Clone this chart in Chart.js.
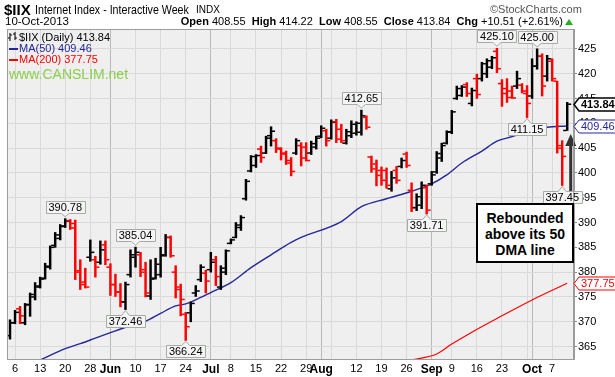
<!DOCTYPE html>
<html>
<head>
<meta charset="utf-8">
<script src="https://cdn.jsdelivr.net/npm/chart.js@4.4.1/dist/chart.umd.min.js"></script>
<style>
  html, body { margin:0; padding:0; background:#fff; }
  #wrap { position:relative; width:615px; height:377px; overflow:hidden; font-family:'Liberation Sans', Arial, sans-serif; color:#000; }
  #c { position:absolute; left:0; top:0; }
  .t { position:absolute; white-space:nowrap; line-height:1; }
  #note { position:absolute; left:476px; top:203px; width:98px; height:60px; box-sizing:border-box; border:2px solid #000; background:#fff;
          font:bold 14px 'Liberation Sans', Arial, sans-serif; line-height:16px; text-align:center; padding-top:5px; }
</style>
</head>
<body>
<div id="wrap">
  <canvas id="c" width="615" height="377"></canvas>
  <div class="t" style="left:4px;top:2px;font-size:15px;font-weight:bold;">$IIX</div>
  <div class="t" style="left:35px;top:3px;font-size:13px;transform:scaleX(0.82);transform-origin:0 0;">Internet Index - Interactive Week</div>
  <div class="t" style="left:196px;top:5px;font-size:10px;">INDX</div>
  <div class="t" style="left:490px;top:4px;font-size:11px;color:#555;">©StockCharts.com</div>
  <div class="t" id="dt" style="left:5px;top:16px;font-size:11.5px;"></div>
  <div class="t" id="ohlc" style="right:52px;top:16px;font-size:11px;"></div>
  <div class="t" style="left:565px;top:19px;width:0;height:0;border-left:4px solid transparent;border-right:4px solid transparent;border-bottom:6px solid #22b022;"></div>

  <div class="t" id="lg1" style="left:19px;top:32px;font-size:11px;"></div>
  <svg class="t" style="left:8px;top:32px;" width="10" height="10"><path d="M2 1V9M0 6H2M2 3H4M7 0V8M5 2H7M7 6H9" stroke="#000" stroke-width="1"/></svg>
  <div class="t" style="left:9px;top:48px;width:9px;height:2px;background:#26269a;"></div>
  <div class="t" id="lg2" style="left:19px;top:43px;font-size:11px;color:#26269a;"></div>
  <div class="t" style="left:9px;top:59px;width:9px;height:2px;background:#ff0000;"></div>
  <div class="t" id="lg3" style="left:19px;top:54px;font-size:11px;color:#ff0000;"></div>
  <div class="t" style="left:9px;top:67px;font-size:14px;color:#8ccf4d;">www.CANSLIM.net</div>

  <div id="note">Rebounded<br>above its 50<br>DMA line</div>
</div>
<script>
// ---------- DATA ----------
const monthDays = [
  ['May',[3,6,7,8,9,10,13,14,15,16,17,20,21,22,23,24,28,29,30,31]],
  ['Jun',[3,4,5,6,7,10,11,12,13,14,17,18,19,20,21,24,25,26,27,28]],
  ['Jul',[1,2,3,5,8,9,10,11,12,15,16,17,18,19,22,23,24,25,26,29,30,31]],
  ['Aug',[1,2,5,6,7,8,9,12,13,14,15,16,19,20,21,22,23,26,27,28,29,30]],
  ['Sep',[3,4,5,6,9,10,11,12,13,16,17,18,19,20,23,24,25,26,27,30]],
  ['Oct',[1,2,3,4,7,8,9,10]]
];
const categories = monthDays.flatMap(([m, ds]) => ds.map(d => m + ' ' + d));

const open = [367.2,369.8,372.6,369.8,373.5,375.0,377.0,378.8,381.0,385.4,386.8,389.3,390.4,389.8,380.0,378.0,383.0,382.5,382.0,385.5,
  381.0,377.5,376.0,374.0,379.5,383.0,383.5,380.5,375.2,378.8,379.5,383.3,387.0,380.0,376.5,371.5,371.8,375.8,378.5,379.8,
  380.5,382.5,377.0,380.0,385.8,387.0,389.0,394.8,400.4,401.5,404.8,404.0,407.5,406.5,404.8,403.8,402.0,404.0,405.5,405.2,
  404.0,405.2,407.4,408.5,407.0,410.3,408.8,406.0,407.5,408.0,408.2,411.2,403.2,401.8,400.5,400.5,396.8,400.5,401.3,403.8,
  396.5,393.0,393.5,397.0,397.8,400.2,403.0,406.0,408.3,415.0,415.6,417.8,414.0,419.0,419.0,420.0,421.3,424.5,418.0,417.0,
  416.5,417.5,417.7,416.0,415.5,421.5,423.5,419.5,422.5,418.5,405.5,408.55];
const high = [370.4,372.3,373.1,373.7,375.8,377.9,379.0,381.8,385.3,388.0,389.6,390.78,390.6,390.5,382.5,380.8,386.5,383.2,386.3,386.3,
  381.7,379.6,377.7,378.0,384.5,385.04,384.0,382.0,382.5,382.8,385.0,387.6,387.3,381.3,377.6,371.9,374.0,377.3,381.5,380.4,
  384.0,383.2,381.3,384.5,386.7,390.0,391.4,398.7,403.5,403.7,405.4,407.4,409.3,406.9,405.1,404.4,403.1,406.9,406.1,406.1,
  406.4,407.4,409.5,408.8,410.7,410.8,409.8,408.8,410.5,410.3,412.65,411.5,403.4,402.6,401.2,401.0,400.3,401.3,403.0,404.2,
  398.0,395.8,398.2,397.6,400.3,404.3,406.0,408.5,412.6,417.5,417.6,418.2,417.1,419.9,422.3,423.0,423.5,425.10,418.8,419.0,
  417.5,420.5,418.0,417.6,423.0,425.00,424.0,423.7,423.0,418.5,406.5,414.22];
const low = [366.5,369.6,369.6,369.4,371.1,374.4,376.8,378.6,380.6,385.0,386.5,389.0,388.6,378.5,376.5,376.8,382.2,379.0,381.6,381.5,
  375.3,375.1,373.0,372.46,379.0,381.0,379.1,375.0,374.5,378.6,379.0,383.2,383.0,374.8,371.2,366.24,370.0,375.1,378.1,375.8,
  380.0,377.3,376.5,379.5,385.7,386.9,388.4,394.5,400.2,401.1,402.1,403.9,405.4,404.1,402.6,401.7,399.4,403.7,401.4,402.4,
  403.7,404.8,407.1,405.4,406.8,406.1,406.1,405.8,407.1,407.6,407.6,408.8,400.1,397.4,397.5,396.9,396.3,397.9,401.0,401.1,
  392.2,392.4,392.8,391.71,397.5,399.9,402.3,405.8,407.9,414.8,415.4,415.4,413.5,415.0,418.5,419.2,421.0,420.2,413.4,414.2,
  415.0,417.0,416.1,411.15,415.0,420.9,415.5,418.5,418.5,404.0,397.45,408.55];
const close = [369.8,371.9,371.2,373.4,375.5,377.2,378.6,381.2,385.0,387.5,389.2,390.3,388.9,380.3,377.5,377.0,384.0,381.0,384.5,382.5,
  377.5,376.0,374.0,377.5,383.5,384.0,380.0,375.8,378.6,381.6,383.5,387.0,383.3,377.0,374.5,369.0,373.7,376.2,381.0,378.2,
  382.0,379.1,380.8,384.3,386.5,389.5,391.0,398.3,403.3,403.5,403.1,407.0,408.4,405.0,404.0,402.5,400.3,406.5,403.0,402.5,
  405.9,407.0,409.0,406.5,410.2,406.8,406.5,408.3,409.8,410.0,411.5,409.2,400.8,399.5,398.5,397.5,399.0,398.5,402.5,401.5,
  393.0,395.2,397.5,392.5,399.6,403.9,405.5,408.2,412.3,417.0,417.3,416.0,416.6,415.8,422.0,422.6,423.2,421.0,416.0,415.2,
  415.1,419.0,416.5,414.0,421.5,423.5,417.5,423.0,419.0,405.0,403.33,413.84];

const ma50Idx = [6,11,14,17,20,23,27,30,33,35,38,40,44,48,52,56,58,66,70,75,80,84,87,90,94,97,100,104,107,111];
const ma50Val = [362.3,364.6,365.6,366.7,367.8,368.9,370.1,371.7,373.2,373.6,374.9,375.9,377.9,380.9,383.5,386.0,387.0,390.2,393.2,394.8,396.3,397.8,399.6,402.0,404.4,406.4,407.3,408.6,409.2,409.46];
const ma200Idx = [80,85,88,92,98,104,111];
const ma200Val = [362.3,363.5,365.5,367.9,371.2,374.4,377.75];

const xTickIdx  = [1,6,11,16,20,25,30,35,40,44,49,54,59,62,64,69,74,79,84,88,93,98,103,104,108];
const xTickText = ['6','13','20','28','Jun','10','17','24','Jul','8','15','22','29','Aug','','12','19','26','Sep','9','16','23','','Oct','7'];
const yTickVals = [365,370,375,380,385,390,395,400,405,410,415,420,425];

const tagIdx  = [11,23,25,35,70,83,97,103,105,110];
const tagSide = ['high','low','high','low','high','low','high','low','high','low'];

// ---------- DERIVED ----------
const n = close.length;
const last = n - 1;
const isUp = close.map((c, i) => i === 0 ? true : c >= close[i - 1]);
const barColor = isUp.map(u => u ? '#000000' : '#ff0000');
const chg = close[last] - close[last - 1];
const pct = chg / close[last - 1] * 100;
const sign = v => (v >= 0 ? '+' : '') + v.toFixed(2);

document.getElementById('dt').textContent = '10-Oct-2013';
document.getElementById('ohlc').innerHTML =
  '<b>Open</b> ' + open[last].toFixed(2) + ' &nbsp;<b>High</b> ' + high[last].toFixed(2) +
  ' &nbsp;<b>Low</b> ' + low[last].toFixed(2) + ' &nbsp;<b>Close</b> ' + close[last].toFixed(2) +
  ' &nbsp;<b>Chg</b> ' + sign(chg) + ' (' + sign(pct) + '%)';
document.getElementById('lg1').textContent = '$IIX (Daily) ' + close[last].toFixed(2);
document.getElementById('lg2').textContent = 'MA(50) ' + ma50Val[ma50Val.length - 1].toFixed(2);
document.getElementById('lg3').textContent = 'MA(200) ' + ma200Val[ma200Val.length - 1].toFixed(2);

const FONT = "'Liberation Sans', Arial, sans-serif";
Chart.defaults.font.family = FONT;
const monthSet = new Set(xTickIdx.filter((v, i) => /[A-Za-z]/.test(xTickText[i])));
const tickLabel = new Map(xTickIdx.map((v, i) => [v, xTickText[i]]));

const bgPlugin = {
  id: 'bg',
  beforeDraw(chart) {
    const { ctx, chartArea: a } = chart;
    ctx.save();
    ctx.fillStyle = '#ffffff';
    ctx.fillRect(0, 0, chart.width, chart.height);
    ctx.fillStyle = '#efefef';
    ctx.fillRect(a.left, a.top, a.right - a.left, a.bottom - a.top);
    ctx.restore();
  }
};

function drawTag(ctx, x, yTip, text, below) {
  ctx.font = '11px ' + FONT;
  const w = Math.round(ctx.measureText(text).width + 5);
  const h = 12, ph = 4;
  const l = Math.round(x - w / 2) + 0.5, r = l + w;
  const t = below ? Math.round(yTip + ph) + 0.5 : Math.round(yTip - ph - h) + 0.5;
  const b = t + h;
  ctx.beginPath();
  if (below) {
    ctx.moveTo(l, t); ctx.lineTo(x - 4, t); ctx.lineTo(x, yTip); ctx.lineTo(x + 4, t);
    ctx.lineTo(r, t); ctx.lineTo(r, b); ctx.lineTo(l, b); ctx.closePath();
  } else {
    ctx.moveTo(l, t); ctx.lineTo(r, t); ctx.lineTo(r, b); ctx.lineTo(x + 4, b);
    ctx.lineTo(x, yTip); ctx.lineTo(x - 4, b); ctx.lineTo(l, b); ctx.closePath();
  }
  ctx.fillStyle = '#f3f4f3'; ctx.fill();
  ctx.strokeStyle = '#a4aca4'; ctx.lineWidth = 1; ctx.stroke();
  ctx.fillStyle = '#000'; ctx.textAlign = 'center'; ctx.textBaseline = 'middle';
  ctx.fillText(text, x, (t + b) / 2 + 0.5);
}

function drawPriceFlag(ctx, xLeft, y, text, color, bold) {
  ctx.font = (bold ? 'bold ' : '') + '11px ' + FONT;
  const h = 13, tip = 5;
  const w = Math.round(ctx.measureText(text).width + 5);
  const yy = Math.round(y) + 0.5;
  ctx.beginPath();
  ctx.moveTo(xLeft, yy);
  ctx.lineTo(xLeft + tip, yy - h / 2);
  ctx.lineTo(xLeft + tip + w, yy - h / 2);
  ctx.lineTo(xLeft + tip + w, yy + h / 2);
  ctx.lineTo(xLeft + tip, yy + h / 2);
  ctx.closePath();
  ctx.fillStyle = '#ffffff'; ctx.fill();
  ctx.strokeStyle = color; ctx.lineWidth = bold ? 1.5 : 1; ctx.stroke();
  ctx.fillStyle = color; ctx.textAlign = 'left'; ctx.textBaseline = 'middle';
  ctx.fillText(text, xLeft + tip + 2, yy + 0.5);
}

const ohlcPlugin = {
  id: 'ohlc',
  afterDatasetsDraw(chart) {
    const { ctx, scales: { x: xs, y: ys }, chartArea: a } = chart;
    ctx.save();
    ctx.beginPath(); ctx.rect(a.left, a.top, a.right - a.left, a.bottom - a.top); ctx.clip();
    for (let i = 0; i < n; i++) {
      const x = xs.getPixelForValue(i);
      ctx.fillStyle = barColor[i];
      const yo = ys.getPixelForValue(open[i]);
      const yc = ys.getPixelForValue(close[i]);
      ctx.fillRect(x - 4, yo - 0.75, 3.1, 1.5);
      ctx.fillRect(x + 0.9, yc - 0.75, 3.1, 1.5);
    }
    ctx.restore();
    // arrow from note box up toward the last bar
    ctx.save();
    const ax = xs.getPixelForValue(last) + 3.5;
    const tipY = ys.getPixelForValue(ma50Val[ma50Val.length - 1]) + 8;
    ctx.strokeStyle = '#333'; ctx.fillStyle = '#333'; ctx.lineWidth = 3;
    ctx.beginPath(); ctx.moveTo(ax, 204); ctx.lineTo(ax, tipY + 10); ctx.stroke();
    ctx.beginPath(); ctx.moveTo(ax, tipY); ctx.lineTo(ax - 5.5, tipY + 12); ctx.lineTo(ax + 5.5, tipY + 12); ctx.closePath(); ctx.fill();
    ctx.restore();
    ctx.save();
    tagIdx.forEach((i, k) => {
      const x = xs.getPixelForValue(i);
      if (tagSide[k] === 'high') drawTag(ctx, x, ys.getPixelForValue(high[i]) - 2, high[i].toFixed(2), false);
      else drawTag(ctx, x, ys.getPixelForValue(low[i]) + 1, low[i].toFixed(2), true);
    });
    ctx.restore();
  },
  afterDraw(chart) {
    const { ctx, scales: { y: ys }, chartArea: a } = chart;
    ctx.save();
    ctx.strokeStyle = '#9c9c9c'; ctx.lineWidth = 1;
    ctx.strokeRect(a.left + 0.5, a.top + 0.5, a.right - a.left - 1, a.bottom - a.top);
    drawPriceFlag(ctx, a.right, ys.getPixelForValue(close[last]), close[last].toFixed(2), '#000000', true);
    drawPriceFlag(ctx, a.right, ys.getPixelForValue(ma50Val[ma50Val.length - 1]), ma50Val[ma50Val.length - 1].toFixed(2), '#26269a', false);
    drawPriceFlag(ctx, a.right, ys.getPixelForValue(ma200Val[ma200Val.length - 1]), ma200Val[ma200Val.length - 1].toFixed(2), '#ff0000', false);
    ctx.restore();
  }
};

new Chart(document.getElementById('c'), {
  type: 'bar',
  data: {
    datasets: [
      { type: 'bar', label: '$IIX', order: 0,
        data: high.map((h, i) => ({ x: i, y: [low[i], h] })),
        backgroundColor: barColor, borderWidth: 0, barThickness: 1.8, grouped: false },
      { type: 'line', label: 'MA(50)', order: 1,
        data: ma50Idx.map((x, i) => ({ x, y: ma50Val[i] })),
        borderColor: '#26269a', borderWidth: 1.4, pointRadius: 0, cubicInterpolationMode: 'monotone', fill: false },
      { type: 'line', label: 'MA(200)', order: 2,
        data: ma200Idx.map((x, i) => ({ x, y: ma200Val[i] })),
        borderColor: '#ff0000', borderWidth: 1.2, pointRadius: 0, cubicInterpolationMode: 'monotone', fill: false }
    ]
  },
  options: {
    responsive: false, animation: false, devicePixelRatio: 1,
    layout: { padding: { left: 7, top: 29, right: 0, bottom: 0 } },
    plugins: { legend: { display: false }, tooltip: { enabled: false } },
    scales: {
      x: {
        type: 'linear', min: -0.6, max: 112.35, offset: false,
        afterBuildTicks: s => { s.ticks = xTickIdx.map(v => ({ value: v })); },
        afterFit: s => { s.height = 18; },
        grid: { offset: false, drawTicks: false, lineWidth: 1,
                color: c => (c.tick && monthSet.has(c.tick.value)) ? '#b9b9b9' : '#d9d9d9' },
        border: { display: true, color: '#9c9c9c' },
        ticks: { autoSkip: false, maxRotation: 0, padding: 3, color: '#000',
                 font: c => ({ size: (c.tick && monthSet.has(c.tick.value)) ? 12 : 11,
                               weight: (c.tick && monthSet.has(c.tick.value)) ? 'bold' : 'normal' }),
                 callback: v => tickLabel.has(v) ? tickLabel.get(v) : '' }
      },
      y: {
        type: 'linear', position: 'right', min: 362.5, max: 429.0,
        afterBuildTicks: s => { s.ticks = yTickVals.map(v => ({ value: v })); },
        afterFit: s => { s.width = 41; },
        grid: { color: '#d9d9d9', tickLength: 3, tickColor: '#888' },
        border: { display: true, color: '#9c9c9c' },
        ticks: { padding: 1, color: '#000', font: { size: 11 }, callback: v => String(v) }
      }
    }
  },
  plugins: [bgPlugin, ohlcPlugin]
});
</script>
</body>
</html>
